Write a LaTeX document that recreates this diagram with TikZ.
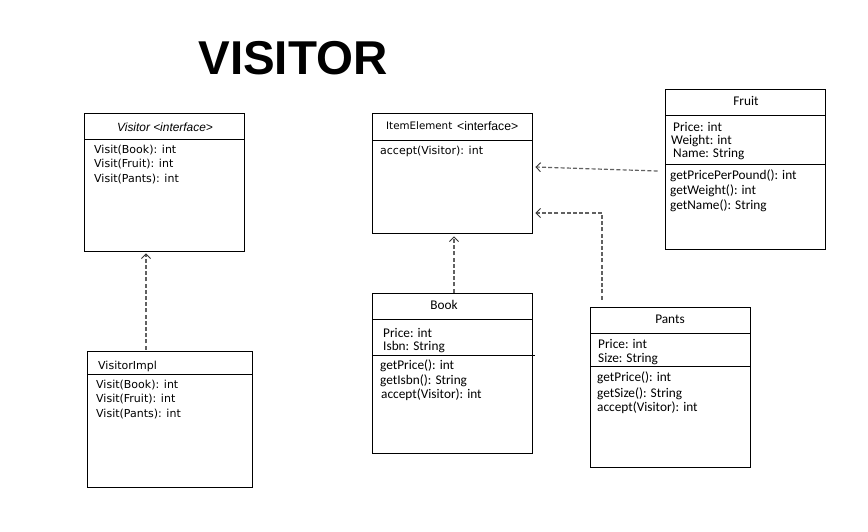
\documentclass[tikz,border=0pt]{standalone}
\usepackage{fontspec}
\setmainfont{Liberation Sans}
\newfontfamily\calib{Carlito}
\newfontfamily\arialf{Liberation Sans}
\newfontfamily\dejav{DejaVu Sans}
\usetikzlibrary{arrows.meta,calc}
\tikzset{
  umlbox/.style={draw=black, line width=0.9pt, rectangle, inner sep=0pt},
  divline/.style={draw=black, line width=0.9pt},
  dep/.style={draw=black!62, line width=1.2pt, dash pattern=on 4pt off 2.2pt,
     -{Straight Barb[length=4.5pt,width=9pt,line width=0.9pt,black!80]}},
  ltxt/.style={anchor=west, inner sep=0pt, text=black},
  ctxt/.style={anchor=center, inner sep=0pt, text=black},
  tah/.style={font=\dejav\fontsize{11}{13}\selectfont},
  ital/.style={font=\arialf\itshape\fontsize{11.9}{13}\selectfont},
  cal/.style={font=\calib\fontsize{13.3}{15}\selectfont},
}
\begin{document}
\begin{tikzpicture}[x=1pt,y=-1pt]
\useasboundingbox (0,0) rectangle (868,531);
% title
\node[ctxt, font=\arialf\bfseries\fontsize{47.5}{50}\selectfont] (title) at (293,58.5) {VISITOR};

% Visitor interface
\node[umlbox, minimum width=160pt, minimum height=138pt] (visitor) at (164,182) {};
\draw[divline] (84,139.5) -- (244,139.5);
\node[ctxt, ital] (vt) at (165,127) {Visitor <interface>};
\node[ltxt, tah] (v1) at (94,150) {Visit(Book): int};
\node[ltxt, tah] (v2) at (94,164.5) {Visit(Fruit): int};
\node[ltxt, tah] (v3) at (94,179) {Visit(Pants): int};

% ItemElement
\node[umlbox, minimum width=160pt, minimum height=120pt] (item) at (452,173) {};
\draw[divline] (372,140) -- (532,140);
\node[ltxt, font=\dejav\fontsize{10.3}{13}\selectfont] (it) at (386,126) {ItemElement};
\node[ltxt, font=\arialf\fontsize{12.2}{13}\selectfont] (it2) at (457,126.5) {<interface>};
\node[ltxt, tah] (i1) at (380,151) {accept(Visitor): int};

% Fruit
\node[umlbox, minimum width=160pt, minimum height=160pt] (fruit) at (745,169) {};
\draw[divline] (665,115) -- (825,115);
\draw[divline] (665,164) -- (825,164);
\node[ctxt, cal] (ft) at (746,101) {Fruit};
\node[ltxt, cal] (f1) at (673,127) {Price: int};
\node[ltxt, cal] (f2) at (671,141) {Weight: int};
\node[ltxt, cal] (f3) at (673,154.5) {Name: String};
\node[ltxt, cal] (f4) at (670,176) {getPricePerPound(): int};
\node[ltxt, cal] (f5) at (670,191) {getWeight(): int};
\node[ltxt, cal] (f6) at (670,206) {getName(): String};

% VisitorImpl
\node[umlbox, minimum width=165pt, minimum height=136pt] (vimpl) at (169.5,419) {};
\draw[divline] (87,374.5) -- (252,374.5);
\node[ltxt, tah] (vit) at (98,366) {VisitorImpl};
\node[ltxt, tah] (vi1) at (96,385) {Visit(Book): int};
\node[ltxt, tah] (vi2) at (96,399.5) {Visit(Fruit): int};
\node[ltxt, tah] (vi3) at (96,414.5) {Visit(Pants): int};

% Book
\node[umlbox, minimum width=160pt, minimum height=160pt] (book) at (452,373) {};
\draw[divline] (372,319.5) -- (532,319.5);
\draw[divline] (372,355) -- (535,355);
\node[ctxt, cal] (bt) at (444,305) {Book};
\node[ltxt, cal] (b1) at (383,333) {Price: int};
\node[ltxt, cal] (b2) at (383,347) {Isbn: String};
\node[ltxt, cal] (b3) at (380,366) {getPrice(): int};
\node[ltxt, cal] (b4) at (380,381) {getIsbn(): String};
\node[ltxt, cal] (b5) at (381,395) {accept(Visitor): int};

% Pants
\node[umlbox, minimum width=160pt, minimum height=160pt] (pants) at (670,387) {};
\draw[divline] (590,333.5) -- (750,333.5);
\draw[divline] (590,366.5) -- (750,366.5);
\node[ctxt, cal] (pt) at (670,319) {Pants};
\node[ltxt, cal] (p1) at (598,344) {Price: int};
\node[ltxt, cal] (p2) at (598,359) {Size: String};
\node[ltxt, cal] (p3) at (597,378) {getPrice(): int};
\node[ltxt, cal] (p4) at (597,394) {getSize(): String};
\node[ltxt, cal] (p5) at (597,408) {accept(Visitor): int};

% connectors
\draw[dep, shorten >=2pt] ([xshift=-23.5pt,yshift=1pt]vimpl.north) -- ([xshift=-23.5pt]vimpl.north |- visitor.south);
\draw[dep, shorten >=3pt] ([xshift=2pt]book.north) -- ([xshift=2pt]book.north |- item.south);
\draw[dep] ([xshift=-7pt,yshift=-2pt]fruit.west) -- ([xshift=3pt,yshift=6pt]item.east);
\draw[dep] ([xshift=-68pt,yshift=7pt]pants.north) |- ([xshift=3pt,yshift=-40pt]item.east);
\end{tikzpicture}
\end{document}
